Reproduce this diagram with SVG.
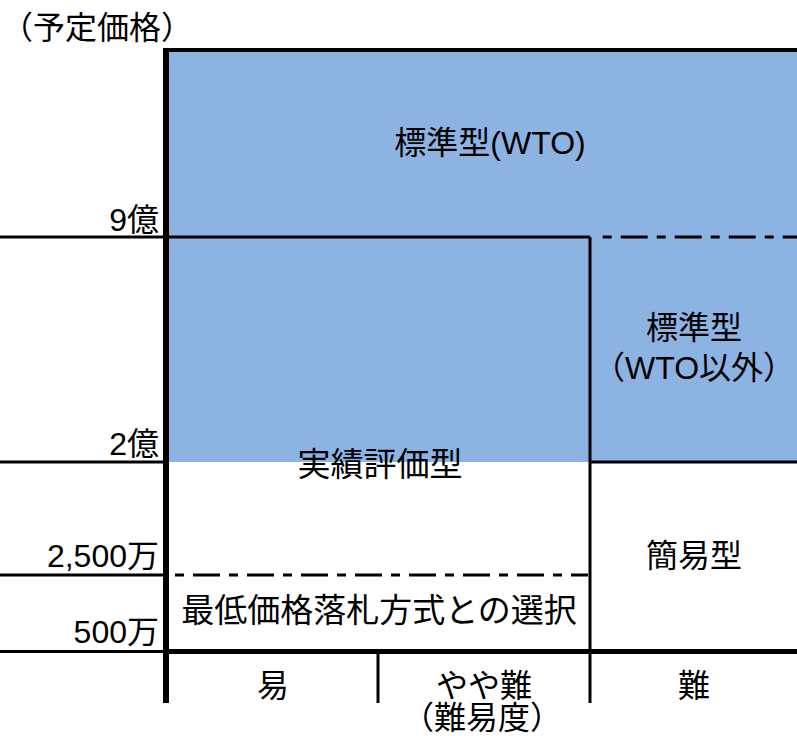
<svg xmlns="http://www.w3.org/2000/svg" width="797" height="736" viewBox="0 0 797 736">
<style>
text { font-family: "Liberation Sans", "Noto Sans CJK JP", sans-serif; font-size: 32px; fill: #000; }
.c { text-anchor: middle; }
.r { text-anchor: end; }
.ln { stroke: #000; stroke-width: 3; fill: none; }
.dd { stroke: #000; stroke-width: 3; fill: none; stroke-dasharray: 9 9 27 9; }
.ax { stroke: #000; fill: none; }
</style>
<rect width="797" height="736" fill="#fff"/>
<g id="regions">
  <rect id="blue" x="169" y="52" width="628" height="410" fill="#8DB3E2"/>
</g>
<g id="connectors">
  <line class="ln" x1="0" y1="237" x2="590" y2="237"/>
  <line class="dd" x1="602.7" y1="237" x2="797" y2="237"/>
  <line class="ln" x1="0" y1="462" x2="163" y2="462"/>
  <line class="ln" x1="590" y1="462" x2="797" y2="462"/>
  <line class="ln" x1="0" y1="575" x2="163" y2="575"/>
  <line class="dd" x1="175" y1="575" x2="588" y2="575"/>
  <line class="ln" x1="0" y1="651.5" x2="163" y2="651.5"/>
  <line class="ln" x1="590" y1="237" x2="590" y2="703"/>
  <line class="ln" x1="378" y1="651" x2="378" y2="703"/>
  <line class="ax" stroke-width="5" x1="163" y1="651.5" x2="797" y2="651.5"/>
  <line class="ax" stroke-width="4" x1="163" y1="50" x2="797" y2="50"/>
  <line class="ax" stroke-width="6" x1="166" y1="48" x2="166" y2="703"/>
</g>
<g id="axis-labels">
  <text x="1" y="39">（予定価格）</text>
  <text class="r" x="159" y="231">9億</text>
  <text class="r" x="159" y="455">2億</text>
  <text class="r" x="159" y="567">2,500万</text>
  <text class="r" x="159" y="643">500万</text>
</g>
<g id="node-wto"><text class="c" x="490" y="154">標準型(WTO)</text></g>
<g id="node-std"><text class="c" x="694" y="339">標準型</text><text class="c" x="694" y="379">（WTO以外）</text></g>
<g id="node-jisseki"><text class="c" x="380" y="476" style="font-size:33px">実績評価型</text></g>
<g id="node-kani"><text class="c" x="694" y="567">簡易型</text></g>
<g id="node-saitei"><text class="c" x="379" y="622" style="font-size:33px">最低価格落札方式との選択</text></g>
<g id="difficulty">
  <text class="c" x="273" y="697">易</text>
  <text class="c" x="484" y="697">やや難</text>
  <text class="c" x="694" y="697">難</text>
  <text class="c" x="482" y="729">（難易度）</text>
</g>
</svg>
